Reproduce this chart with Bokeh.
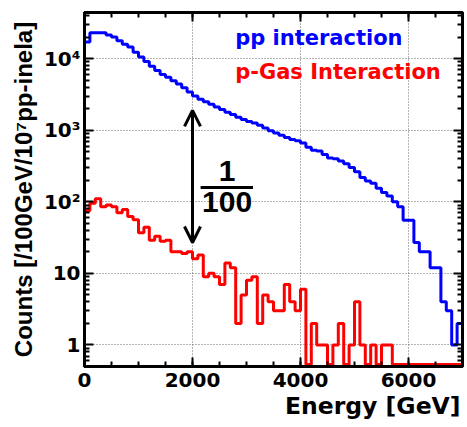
import numpy as np
from bokeh.plotting import figure
from bokeh.models import (Range1d, FixedTicker, LinearAxis, LogAxis, Label,
                          Arrow, OpenHead, Title)
from bokeh.embed import file_html
from bokeh.resources import INLINE

# ---------------- data ----------------
bin_width = 100  # GeV
energy_edges = np.arange(0, 7000 + bin_width, bin_width)

pp_counts = [17000, 22900, 22900, 22900, 21400, 20000, 17800, 15800, 14500, 12300,
             10500, 9100, 7800, 6800, 6000, 5500, 4900, 4400, 3900, 3400,
             3000, 2700, 2500, 2300, 2100, 1950, 1780, 1660, 1510, 1410,
             1320, 1260, 1170, 1070, 980, 910, 850, 790, 740, 710,
             660, 575, 525, 510, 457, 407, 398, 372, 339, 302,
             263, 219, 195, 182, 155, 135, 120, 100, 85, 55,
             55, 27, 20, 20, 12, 12, 4, 3, 1, 2]

pgas_counts = [75, 95, 110, 85, 90, 85, 70, 78, 62, 56,
               37, 44, 29, 33, 28, 29, 20, 20, 19, 20,
               16, 18, 9, 10, 9, 7, 14, 12, 2, 5,
               8, 9, 2, 5, 4, 3, 3, 7, 4, 3,
               6, 0, 2, 1, 1, 0, 1, 2, 0, 1,
               4, 1, 0, 1, 0, 1, 1, 0, 0, 0,
               0, 0, 0, 0, 0, 0, 0, 0, 0, 0]

x_ticks = [0, 2000, 4000, 6000]
x_tick_labels = ["0", "2000", "4000", "6000"]
y_ticks = [1, 10, 100, 1000, 10000]
y_tick_labels = ["1", "10", "10\u00b2", "10\u00b3", "10\u2074"]

x_min, x_max = 0, 7000
y_min, y_max = 0.5, 44000

series_names = ["pp interaction", "p-Gas Interaction"]
x_title = "Energy [GeV]"
y_title = "Counts [/100GeV/10\u2077pp-inela]"

# annotation anchors (data units)
arrow_x = 2000
arrow_top, arrow_bottom = 1890, 27
frac_x = 2640
frac_num_y, frac_den_y, frac_bar_y = 268, 99, 158
frac_bar_x0, frac_bar_x1 = 2150, 3120
legend_x = 2790
legend_y = [19300, 6420]

# ---------------- figure ----------------
p = figure(width=467, height=427,
           x_range=Range1d(x_min, x_max), y_range=Range1d(y_min, y_max),
           y_axis_type="log", output_backend="svg", toolbar_location=None,
           min_border_left=84, min_border_right=5, min_border_top=12,
           min_border_bottom=61)
p.background_fill_color = "white"
p.border_fill_color = "white"
p.outline_line_color = "black"
p.outline_line_width = 3

x_minor = list(range(x_min, x_max + 1, 500))
y_minor = [m * 10.0 ** e for e in range(-1, 5) for m in range(2, 10)
           if y_min <= m * 10.0 ** e <= y_max]
xt = FixedTicker(ticks=x_ticks, minor_ticks=x_minor)
yt = FixedTicker(ticks=y_ticks, minor_ticks=y_minor)

def style_axis(ax, show_labels):
    ax.axis_line_width = 3
    ax.axis_line_color = "black"
    ax.major_tick_in = 9
    ax.major_tick_out = 0
    ax.minor_tick_in = 5
    ax.minor_tick_out = 0
    ax.major_tick_line_width = 2
    ax.minor_tick_line_width = 2
    if show_labels:
        ax.major_label_text_font = "DejaVu Sans"
        ax.major_label_text_font_style = "bold"
        ax.major_label_text_font_size = "20px"
        ax.major_label_text_color = "black"
    else:
        ax.major_label_text_font_size = "5px"
        ax.major_label_text_color = None
        ax.major_label_standoff = 0

xa = p.xaxis[0]
xa.ticker = xt
xa.major_label_overrides = {t: l for t, l in zip(x_ticks, x_tick_labels)}
xa.major_label_standoff = 6
style_axis(xa, True)

ya = p.yaxis[0]
ya.ticker = yt
ya.major_label_overrides = {t: l for t, l in zip(y_ticks, y_tick_labels)}
ya.major_label_standoff = 4
style_axis(ya, True)
ya.axis_label = y_title
ya.axis_label_text_font = "Liberation Sans"
ya.axis_label_text_font_style = "bold"
ya.axis_label_text_font_size = "24px"
ya.axis_label_text_color = "black"
ya.axis_label_standoff = 4

top = LinearAxis(ticker=xt)
style_axis(top, False)
p.add_layout(top, "above")
right = LogAxis(ticker=yt)
style_axis(right, False)
p.add_layout(right, "right")

p.add_layout(Title(text=x_title, align="right", text_font="DejaVu Sans",
                   text_font_style="bold", text_font_size="23.5px",
                   text_color="black", standoff=0, offset=2), "below")

for g in (p.xgrid[0], p.ygrid[0]):
    g.grid_line_color = "#666666"
    g.grid_line_dash = "1 2"
    g.grid_line_width = 1
p.xgrid[0].ticker = FixedTicker(ticks=x_ticks)
p.ygrid[0].ticker = FixedTicker(ticks=y_ticks)

# ---------------- histograms ----------------
pp = np.array(pp_counts, dtype=float)
pg = np.array(pgas_counts, dtype=float)
# empty bins are drawn just at the bottom edge of the frame, as ROOT does
bottom_edge = y_min * 10 ** 0.028
pg_plot = np.where(pg > 0, pg, bottom_edge)

p.step(x=energy_edges, y=np.append(pp, pp[-1]), mode="after",
       line_color="#0000ff", line_width=3)
p.step(x=energy_edges, y=np.append(pg_plot, pg_plot[-1]), mode="after",
       line_color="#ff0000", line_width=3)

# ---------------- annotations ----------------
p.add_layout(Arrow(x_start=arrow_x, y_start=arrow_bottom, x_end=arrow_x, y_end=arrow_top,
                   start=OpenHead(size=16, line_width=3), end=OpenHead(size=16, line_width=3),
                   line_width=3, line_color="black"))
p.add_layout(Arrow(x_start=frac_bar_x0, y_start=frac_bar_y, x_end=frac_bar_x1, y_end=frac_bar_y,
                   end=None, line_width=3, line_color="black"))
for txt, yy in (("1", frac_num_y), ("100", frac_den_y)):
    p.add_layout(Label(x=frac_x, y=yy, text=txt, text_align="center",
                       text_baseline="alphabetic", text_font="Liberation Sans",
                       text_font_style="bold", text_font_size="30px", text_color="black"))

for name, yy, col in zip(series_names, legend_y, ["#0000ff", "#ff0000"]):
    p.add_layout(Label(x=legend_x, y=yy, text=name, text_align="left",
                       text_baseline="alphabetic", text_font="DejaVu Sans",
                       text_font_style="bold", text_font_size="21px", text_color=col))

with open("out.html", "w", encoding="utf-8") as f:
    f.write(file_html(p, INLINE))
